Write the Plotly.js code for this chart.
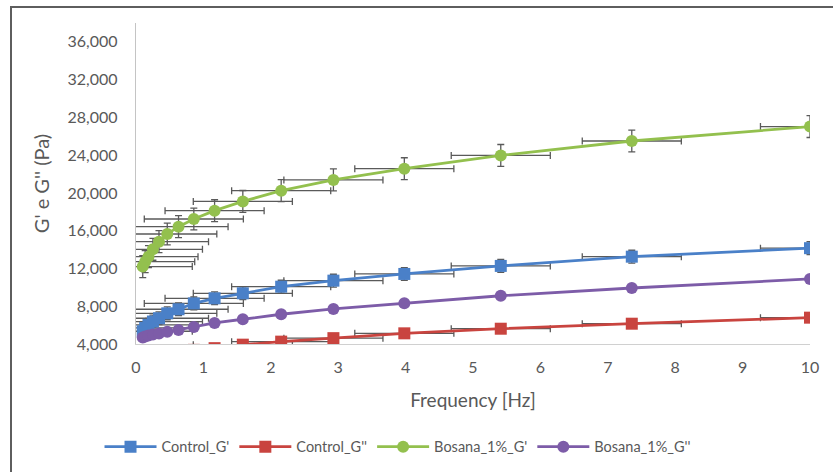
<!DOCTYPE html>
<html>
<head>
<meta charset="utf-8">
<script src="https://cdn.plot.ly/plotly-3.0.1.min.js"></script>
<style>
  html, body { margin: 0; padding: 0; background: #ffffff; }
  #wrap { position: relative; width: 833px; height: 472px; overflow: hidden; }
  #frame { position: absolute; left: 10px; top: 6px; width: 840px; height: 480px; border: 2px solid #5e5e5e; box-sizing: border-box; pointer-events: none; z-index: 5; }
  #chart { position: absolute; left: 0; top: 0; width: 833px; height: 472px; }
</style>
</head>
<body>
<div id="wrap">
  <div id="chart"></div>
  <div id="frame"></div>
</div>
<script>
// Frequencies (Hz)
const frequency = [0.1, 0.136, 0.185, 0.251, 0.341, 0.464, 0.631, 0.858, 1.166, 1.585, 2.154, 2.929, 3.981, 5.412, 7.356, 10];

// Series values (Pa)
const controlGp  = [5350, 5700, 6030, 6380, 6730, 7250, 7680, 8300, 8840, 9370, 10070, 10710, 11420, 12270, 13250, 14150];
const controlGpp = [2300, 2450, 2600, 2750, 2900, 3050, 3200, 3380, 3560, 3930, 4250, 4620, 5130, 5620, 6150, 6790];
const bosanaGp   = [12200, 12720, 13250, 14030, 14840, 15650, 16430, 17240, 18120, 19100, 20240, 21380, 22570, 23970, 25500, 27030];
const bosanaGpp  = [4700, 4800, 4900, 5000, 5120, 5300, 5480, 5800, 6230, 6620, 7150, 7710, 8310, 9110, 9930, 10890];

// Error bar magnitudes (standard error)
const freqErr = 0.735;
const controlGpErr = 680;
const controlGppErr = 330;
const bosanaGpErr = 1160;

// Labels
const seriesNames = ["Control_G'", "Control_G''", "Bosana_1%_G'", "Bosana_1%_G''"];
const yTickVals = [4000, 8000, 12000, 16000, 20000, 24000, 28000, 32000, 36000];
const xTickVals = [0, 1, 2, 3, 4, 5, 6, 7, 8, 9, 10];

const colors = ['#4a80c8', '#c9443f', '#93c04e', '#7d5ca8'];
const errColor = '#5a5a5a';

function errX() {
  return { type: 'constant', value: freqErr, color: errColor, thickness: 1.3, width: 3.5 };
}
function errY(v) {
  return { type: 'constant', value: v, color: errColor, thickness: 1.3, width: 3.5 };
}

const traces = [
  { x: frequency, y: controlGp, name: seriesNames[0], type: 'scatter', mode: 'lines+markers',
    line: { color: colors[0], width: 2.8 }, marker: { symbol: 'square', size: 12, color: colors[0] },
    error_x: errX(), error_y: errY(controlGpErr) },
  { x: frequency, y: controlGpp, name: seriesNames[1], type: 'scatter', mode: 'lines+markers',
    line: { color: colors[1], width: 2.8 }, marker: { symbol: 'square', size: 12, color: colors[1] },
    error_x: errX(), error_y: errY(controlGppErr) },
  { x: frequency, y: bosanaGp, name: seriesNames[2], type: 'scatter', mode: 'lines+markers',
    line: { color: colors[2], width: 2.8 }, marker: { symbol: 'circle', size: 12, color: colors[2] },
    error_x: errX(), error_y: errY(bosanaGpErr) },
  { x: frequency, y: bosanaGpp, name: seriesNames[3], type: 'scatter', mode: 'lines+markers',
    line: { color: colors[3], width: 2.8 }, marker: { symbol: 'circle', size: 12, color: colors[3] } }
];

const fontFam = 'Lato, "Open Sans", sans-serif';

const layout = {
  width: 833, height: 472,
  margin: { l: 136, r: 23, t: 23, b: 128, autoexpand: false },
  paper_bgcolor: '#ffffff', plot_bgcolor: '#ffffff',
  font: { family: fontFam, color: '#595959', size: 16 },
  showlegend: true,
  legend: {
    orientation: 'h', x: 0.388, xanchor: 'center', y: -0.32, yanchor: 'middle',
    font: { family: fontFam, size: 14.5, color: '#595959' },
    itemwidth: 52, itemclick: false, traceorder: 'normal'
  },
  xaxis: {
    range: [0, 10], tickvals: xTickVals, ticks: '', showgrid: false, zeroline: false,
    showline: true, linecolor: '#d0d0d0', linewidth: 1.2,
    tickfont: { family: fontFam, size: 16, color: '#595959' },
    ticklabelstandoff: 9,
    title: { text: 'Frequency [Hz]', font: { family: fontFam, size: 19, color: '#595959' }, standoff: 18 }
  },
  yaxis: {
    range: [4000, 38000], tickvals: yTickVals, tickformat: ',d', ticks: '', showgrid: false, zeroline: false,
    showline: true, linecolor: '#c4c4c4', linewidth: 1.2,
    tickfont: { family: fontFam, size: 16, color: '#595959' },
    ticklabelstandoff: 14,
    title: { text: "G' e G'' (Pa)", font: { family: fontFam, size: 20, color: '#595959' }, standoff: 12 }
  }
};

Plotly.newPlot('chart', traces, layout, { displayModeBar: false, staticPlot: true });
</script>
</body>
</html>
